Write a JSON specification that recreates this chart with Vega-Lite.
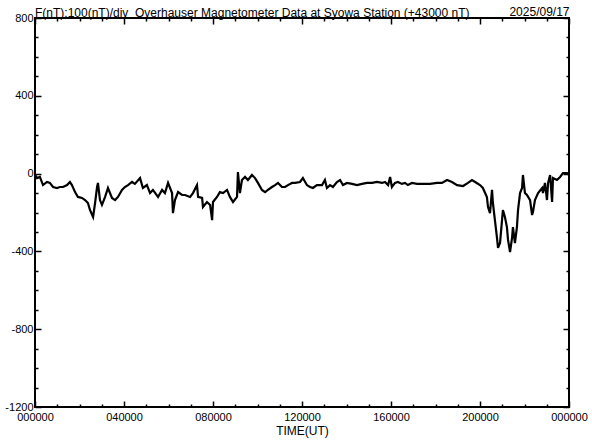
{
  "$schema": "https://vega.github.io/schema/vega-lite/v6.json",
  "width": 534,
  "height": 389,
  "autosize": "none",
  "padding": {"left": 35, "top": 18, "right": 23, "bottom": 33},
  "background": "white",
  "title": {
    "text": "F(nT):100(nT)/div\u00a0 Overhauser Magnetometer Data at Syowa Station (+43000 nT)",
    "anchor": "start",
    "frame": "group",
    "font": "Liberation Sans",
    "fontSize": 12,
    "fontWeight": "normal",
    "color": "black",
    "baseline": "alphabetic",
    "offset": 2,
    "dy": 26
  },
  "config": {
    "view": {"stroke": "black", "strokeWidth": 2},
    "axis": {
      "grid": false,
      "domain": false,
      "tickColor": "black",
      "tickWidth": 1.5,
      "labelColor": "black",
      "labelFont": "Liberation Sans",
      "labelFontSize": 11,
      "labelOverlap": false,
      "labelFlush": false,
      "titleFont": "Liberation Sans",
      "titleFontWeight": "normal",
      "titleColor": "black",
      "titleFontSize": 12
    }
  },
  "data": {
    "values": [
      {"h": 0.00, "v": -7}, {"h": 0.09, "v": -23}, {"h": 0.22, "v": -17}, {"h": 0.36, "v": -59},
      {"h": 0.54, "v": -43}, {"h": 0.67, "v": -48}, {"h": 0.81, "v": -69}, {"h": 0.99, "v": -74},
      {"h": 1.12, "v": -69}, {"h": 1.26, "v": -69}, {"h": 1.44, "v": -59}, {"h": 1.57, "v": -43},
      {"h": 1.66, "v": -59}, {"h": 1.80, "v": -95}, {"h": 1.93, "v": -120}, {"h": 2.11, "v": -125},
      {"h": 2.25, "v": -136}, {"h": 2.38, "v": -151}, {"h": 2.47, "v": -187}, {"h": 2.61, "v": -223},
      {"h": 2.70, "v": -151}, {"h": 2.79, "v": -69}, {"h": 2.83, "v": -48}, {"h": 2.92, "v": -136},
      {"h": 3.01, "v": -161}, {"h": 3.15, "v": -120}, {"h": 3.28, "v": -74}, {"h": 3.46, "v": -125},
      {"h": 3.60, "v": -136}, {"h": 3.73, "v": -120}, {"h": 3.91, "v": -84}, {"h": 4.04, "v": -69},
      {"h": 4.18, "v": -59}, {"h": 4.36, "v": -43}, {"h": 4.49, "v": -53}, {"h": 4.72, "v": -23},
      {"h": 4.85, "v": -74}, {"h": 5.03, "v": -59}, {"h": 5.17, "v": -100}, {"h": 5.30, "v": -84},
      {"h": 5.53, "v": -120}, {"h": 5.71, "v": -84}, {"h": 5.84, "v": -100}, {"h": 5.98, "v": -48},
      {"h": 6.16, "v": -100}, {"h": 6.20, "v": -203}, {"h": 6.29, "v": -136}, {"h": 6.43, "v": -95},
      {"h": 6.61, "v": -110}, {"h": 6.74, "v": -110}, {"h": 6.97, "v": -120}, {"h": 7.10, "v": -100},
      {"h": 7.28, "v": -59}, {"h": 7.33, "v": -120}, {"h": 7.51, "v": -125}, {"h": 7.55, "v": -172},
      {"h": 7.73, "v": -146}, {"h": 7.87, "v": -161}, {"h": 7.96, "v": -239}, {"h": 8.00, "v": -146},
      {"h": 8.18, "v": -120}, {"h": 8.31, "v": -95}, {"h": 8.45, "v": -100}, {"h": 8.63, "v": -84},
      {"h": 8.76, "v": -120}, {"h": 8.90, "v": -146}, {"h": 9.08, "v": -120}, {"h": 9.12, "v": 8},
      {"h": 9.21, "v": -100}, {"h": 9.30, "v": -33}, {"h": 9.44, "v": -17}, {"h": 9.57, "v": -33},
      {"h": 9.75, "v": -7}, {"h": 9.89, "v": -23}, {"h": 10.02, "v": -48}, {"h": 10.20, "v": -84},
      {"h": 10.34, "v": -95}, {"h": 10.47, "v": -84}, {"h": 10.65, "v": -69}, {"h": 10.79, "v": -59},
      {"h": 10.92, "v": -48}, {"h": 11.10, "v": -69}, {"h": 11.24, "v": -69}, {"h": 11.37, "v": -59},
      {"h": 11.55, "v": -48}, {"h": 11.69, "v": -48}, {"h": 11.91, "v": -43}, {"h": 12.04, "v": -23},
      {"h": 12.22, "v": -59}, {"h": 12.36, "v": -69}, {"h": 12.49, "v": -74}, {"h": 12.67, "v": -59},
      {"h": 12.81, "v": -59}, {"h": 12.90, "v": -59}, {"h": 13.03, "v": -33}, {"h": 13.12, "v": -74},
      {"h": 13.26, "v": -59}, {"h": 13.39, "v": -69}, {"h": 13.57, "v": -43}, {"h": 13.71, "v": -33},
      {"h": 13.84, "v": -59}, {"h": 14.02, "v": -48}, {"h": 14.25, "v": -53}, {"h": 14.47, "v": -59},
      {"h": 14.70, "v": -53}, {"h": 14.92, "v": -48}, {"h": 15.15, "v": -48}, {"h": 15.37, "v": -43},
      {"h": 15.60, "v": -48}, {"h": 15.73, "v": -43}, {"h": 15.87, "v": -59}, {"h": 15.96, "v": -17},
      {"h": 16.04, "v": -69}, {"h": 16.18, "v": -48}, {"h": 16.31, "v": -43}, {"h": 16.49, "v": -53},
      {"h": 16.63, "v": -48}, {"h": 16.76, "v": -59}, {"h": 16.94, "v": -48}, {"h": 17.17, "v": -53},
      {"h": 17.44, "v": -53}, {"h": 17.75, "v": -53}, {"h": 18.07, "v": -48}, {"h": 18.29, "v": -48},
      {"h": 18.52, "v": -33}, {"h": 18.74, "v": -43}, {"h": 18.97, "v": -59}, {"h": 19.24, "v": -64},
      {"h": 19.46, "v": -48}, {"h": 19.64, "v": -33}, {"h": 19.78, "v": -43}, {"h": 20.00, "v": -59},
      {"h": 20.13, "v": -74}, {"h": 20.31, "v": -120}, {"h": 20.36, "v": -172}, {"h": 20.45, "v": -203},
      {"h": 20.54, "v": -84}, {"h": 20.58, "v": -151}, {"h": 20.67, "v": -239}, {"h": 20.76, "v": -326},
      {"h": 20.81, "v": -382}, {"h": 20.90, "v": -357}, {"h": 20.99, "v": -239}, {"h": 21.03, "v": -187},
      {"h": 21.12, "v": -223}, {"h": 21.21, "v": -275}, {"h": 21.26, "v": -341}, {"h": 21.35, "v": -403},
      {"h": 21.44, "v": -331}, {"h": 21.48, "v": -275}, {"h": 21.57, "v": -357}, {"h": 21.66, "v": -275},
      {"h": 21.71, "v": -187}, {"h": 21.80, "v": -100}, {"h": 21.89, "v": -74}, {"h": 21.93, "v": -7},
      {"h": 22.02, "v": -100}, {"h": 22.11, "v": -110}, {"h": 22.25, "v": -136}, {"h": 22.34, "v": -213},
      {"h": 22.38, "v": -197}, {"h": 22.47, "v": -136}, {"h": 22.61, "v": -100}, {"h": 22.79, "v": -74},
      {"h": 22.83, "v": -100}, {"h": 22.92, "v": -48}, {"h": 23.01, "v": -136}, {"h": 23.06, "v": -48},
      {"h": 23.15, "v": -7}, {"h": 23.24, "v": -146}, {"h": 23.28, "v": -23}, {"h": 23.46, "v": -33},
      {"h": 23.60, "v": -17}, {"h": 23.73, "v": 3}, {"h": 23.91, "v": 3}, {"h": 24.00, "v": -7}
    ]
  },
  "layer": [
    {
      "mark": {"type": "line", "color": "black", "strokeWidth": 2.2, "strokeJoin": "miter"},
      "encoding": {
        "x": {
          "field": "h", "type": "quantitative",
          "scale": {"domain": [0, 24], "nice": false, "zero": false},
          "axis": {
            "orient": "bottom",
            "title": "TIME(UT)",
            "titlePadding": 0,
            "values": [0,1,2,3,4,5,6,7,8,9,10,11,12,13,14,15,16,17,18,19,20,21,22,23,24],
            "tickSize": {"condition": {"test": "datum.value % 4 == 0", "value": -6}, "value": -3},
            "labelPadding": 10,
            "labelExpr": "datum.value % 4 == 0 ? ((datum.value % 24) < 10 ? '0' : '') + (datum.value % 24) + '0000' : ''"
          }
        },
        "y": {
          "field": "v", "type": "quantitative",
          "scale": {"domain": [-1200, 800], "nice": false, "zero": false},
          "axis": {
            "orient": "left",
            "title": null,
            "values": [-1200,-1100,-1000,-900,-800,-700,-600,-500,-400,-300,-200,-100,0,100,200,300,400,500,600,700,800],
            "tickSize": {"condition": {"test": "datum.value % 400 == 0", "value": -6}, "value": -3},
            "labelPadding": 8,
            "labelExpr": "datum.value % 400 == 0 ? '' + datum.value : ''"
          }
        }
      }
    },
    {
      "mark": {"type": "line", "opacity": 0},
      "encoding": {
        "x": {
          "field": "h", "type": "quantitative",
          "scale": {"domain": [0, 24], "nice": false, "zero": false},
          "axis": {
            "orient": "top",
            "title": "2025/09/17",
            "titleAnchor": "end",
            "titlePadding": 2,
            "titleBaseline": "alphabetic",
            "labels": false,
            "values": [0,1,2,3,4,5,6,7,8,9,10,11,12,13,14,15,16,17,18,19,20,21,22,23,24],
            "tickSize": {"condition": {"test": "datum.value % 4 == 0", "value": -6}, "value": -3}
          }
        },
        "y": {
          "field": "v", "type": "quantitative",
          "scale": {"domain": [-1200, 800], "nice": false, "zero": false},
          "axis": {
            "orient": "right",
            "title": null,
            "labels": false,
            "values": [-1200,-1100,-1000,-900,-800,-700,-600,-500,-400,-300,-200,-100,0,100,200,300,400,500,600,700,800],
            "tickSize": {"condition": {"test": "datum.value % 400 == 0", "value": -6}, "value": -3}
          }
        }
      }
    }
  ],
  "resolve": {"axis": {"x": "independent", "y": "independent"}}
}
